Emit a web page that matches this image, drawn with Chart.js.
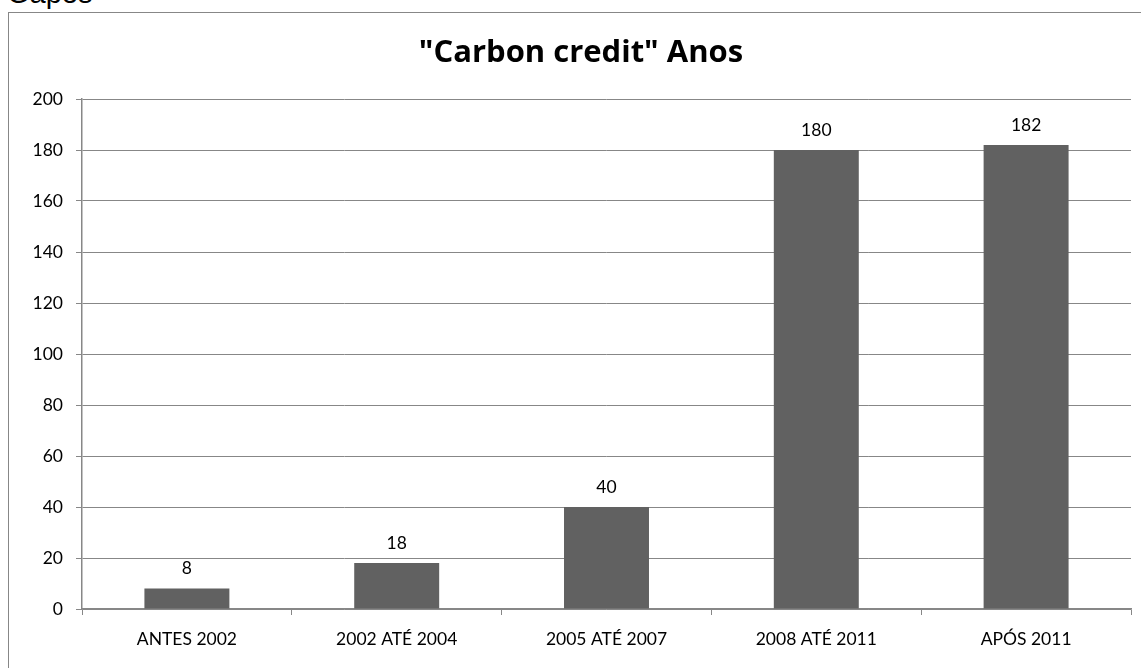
<!DOCTYPE html>
<html>
<head>
<meta charset="utf-8">
<script src="https://cdn.jsdelivr.net/npm/chart.js@4/dist/chart.umd.min.js"></script>
<style>
  html, body { margin: 0; padding: 0; background: #fff; overflow: hidden; }
  #wrap { position: relative; width: 1141px; height: 668px; }
  #caption { position: absolute; left: 7px; top: -21px; font: 29px "Liberation Sans", Arial, sans-serif; color: #000; line-height: 1; }
  #frame { position: absolute; left: 8px; top: 12px; width: 1200px; height: 700px; border: 1px solid #878787; box-sizing: border-box; }
  #chart { position: absolute; left: 0; top: 0; }
</style>
</head>
<body>
<div id="wrap">
  <div id="caption">Gapes</div>
  <div id="frame"></div>
  <canvas id="chart" width="1141" height="668"></canvas>
</div>
<script>
const categories = ['ANTES 2002', '2002 ATÉ 2004', '2005 ATÉ 2007', '2008 ATÉ 2011', 'APÓS 2011'];
const counts = [8, 18, 40, 180, 182];
const yTicks = [0, 20, 40, 60, 80, 100, 120, 140, 160, 180, 200];
const chartTitle = '"Carbon credit" Anos';

const FONT = 'Lato, "Open Sans", sans-serif';
const TITLE_FONT = '"Open Sans", Lato, sans-serif';
const AXIS_GREY = '#878787';

// Title centred on the framed box, not the canvas
const titleText = {
  id: 'titleText',
  afterDraw(chart) {
    const ctx = chart.ctx;
    ctx.save();
    ctx.font = 'bold 31px ' + TITLE_FONT;
    ctx.fillStyle = '#000';
    ctx.textAlign = 'center';
    ctx.textBaseline = 'alphabetic';
    ctx.fillText(chartTitle, 581, 62);
    ctx.restore();
  }
};

// Value labels above each bar
const barLabels = {
  id: 'barLabels',
  afterDatasetsDraw(chart) {
    const ctx = chart.ctx;
    const meta = chart.getDatasetMeta(0);
    ctx.save();
    ctx.font = '17.5px ' + FONT;
    ctx.fillStyle = '#000';
    ctx.textAlign = 'center';
    ctx.textBaseline = 'middle';
    meta.data.forEach((bar, i) => {
      ctx.fillText(String(counts[i]), bar.x, bar.y - 20);
    });
    ctx.restore();
  }
};

new Chart(document.getElementById('chart'), {
  type: 'bar',
  data: {
    labels: categories,
    datasets: [{
      data: counts,
      backgroundColor: '#616161',
      borderWidth: 0,
      categoryPercentage: 1,
      barPercentage: 0.405
    }]
  },
  options: {
    responsive: false,
    animation: false,
    layout: { padding: { left: 0, right: 10, top: 99, bottom: 0 } },
    plugins: {
      legend: { display: false },
      tooltip: { enabled: false },
      title: { display: false }
    },
    scales: {
      x: {
        afterFit: s => { s.height = 59; },
        grid: { offset: true, drawOnChartArea: false, drawTicks: true, tickLength: 6, color: AXIS_GREY },
        border: { color: AXIS_GREY, width: 1.5 },
        ticks: { color: '#000', font: { family: FONT, size: 17.5 }, padding: 14, maxRotation: 0 }
      },
      y: {
        min: 0,
        max: 200,
        afterFit: s => { s.width = 82; },
        afterBuildTicks: s => { s.ticks = yTicks.map(v => ({ value: v })); },
        grid: { color: AXIS_GREY, lineWidth: 1, tickLength: 6 },
        border: { color: AXIS_GREY, width: 1.5 },
        ticks: { color: '#000', font: { family: FONT, size: 17.5 }, padding: 13 }
      }
    }
  },
  plugins: [barLabels, titleText]
});
</script>
</body>
</html>
